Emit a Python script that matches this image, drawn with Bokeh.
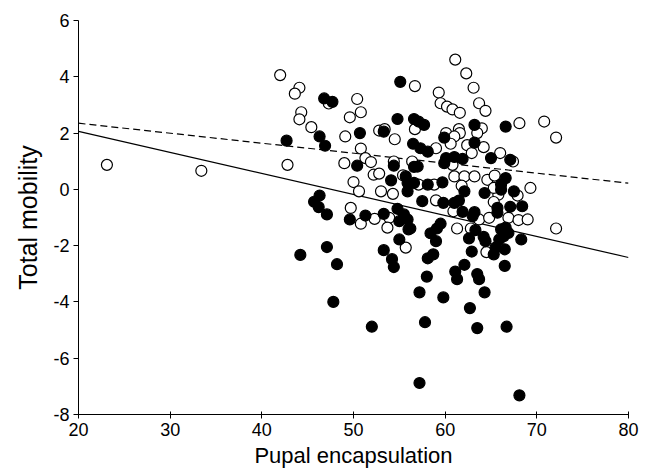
from bokeh.plotting import figure
from bokeh.models import Range1d, FixedTicker
from bokeh.embed import file_html
from bokeh.resources import INLINE

open_x = [23.1, 33.4, 42.0, 44.1, 43.6, 47.3, 50.4, 44.3, 44.1, 50.8, 49.6, 45.4, 49.1, 52.8, 53.4, 54.5,
          50.8, 42.8, 49.0, 51.3, 51.9, 54.4, 61.1, 62.3, 56.7, 63.1, 59.3, 63.7, 64.4, 59.5, 60.2, 60.8,
          61.6, 56.7, 64.0, 68.1, 70.8, 72.1, 60.1, 61.5, 61.6, 61.0, 60.6, 63.5, 62.4, 62.9, 64.2, 59.0,
          66.0, 67.4, 56.4, 60.8, 52.2, 52.8, 50.0, 50.6, 53.0, 54.3, 49.7, 50.8, 52.3, 53.9, 53.7, 55.7,
          57.1, 58.8, 61.0, 62.1, 63.2, 61.8, 64.6, 65.4, 65.8, 67.9, 69.3, 59.0, 60.9, 63.7, 65.3, 64.8,
          66.9, 68.0, 69.0, 72.1, 61.3, 62.8, 64.5, 55.4, 65.3]
open_y = [0.87, 0.66, 4.06, 3.61, 3.40, 3.05, 3.21, 2.74, 2.49, 2.74, 2.56, 2.21, 1.88, 2.09, 2.14, 1.78,
          1.45, 0.87, 0.93, 1.11, 0.97, 0.99, 4.61, 4.12, 3.67, 3.61, 3.44, 3.06, 2.79, 3.06, 2.94, 2.84,
          2.72, 2.14, 2.17, 2.35, 2.41, 1.84, 2.00, 2.14, 2.00, 1.88, 1.62, 2.00, 1.57, 1.29, 1.50, 1.46,
          1.29, 0.99, 0.99, 0.87, 0.52, 0.56, 0.26, -0.07, -0.07, -0.16, -0.66, -1.22, -1.05, -1.01, -1.36, -2.07,
          0.17, 0.17, 0.46, 0.46, 0.46, 0.13, 0.34, 0.49, -0.19, -0.22, 0.05, -0.39, -0.78, -1.07, -0.45, -1.01,
          -1.01, -1.09, -1.07, -1.39, -1.39, -1.39, -2.23, 0.50, 0.05]

filled_x = [46.8, 47.7, 46.3, 46.9, 42.7, 50.7, 53.3, 55.1, 54.8, 50.4, 54.4, 56.6, 57.1, 57.7, 63.2, 66.6,
            59.9, 63.2, 56.5, 57.3, 58.1, 65.0, 67.1, 60.1, 61.0, 61.9, 59.9, 57.0, 56.6, 54.1, 46.3, 45.7,
            46.2, 47.1, 49.6, 51.3, 53.3, 54.8, 55.5, 55.9, 55.9, 55.0, 56.0, 55.0, 53.3, 47.1, 44.2, 48.2,
            54.2, 54.4, 55.7, 56.6, 58.1, 59.7, 62.1, 66.6, 66.1, 66.1, 64.3, 67.5, 57.5, 59.8, 61.0, 61.5,
            61.9, 63.2, 63.0, 65.7, 65.7, 67.1, 68.4, 55.9, 56.2, 59.5, 59.1, 58.4, 63.3, 62.6, 59.0, 64.2,
            64.4, 66.1, 66.6, 66.4, 65.9, 68.3, 65.5, 66.5, 65.3, 62.9, 58.7, 58.1, 62.1, 66.5, 61.1, 61.3,
            63.5, 63.7, 58.0, 66.9, 47.8, 57.2, 59.8, 64.3, 62.7, 52.0, 57.8, 63.5, 66.7, 57.2, 68.1]
filled_y = [3.23, 3.11, 1.88, 1.55, 1.73, 2.00, 2.05, 3.82, 2.50, 0.84, 0.84, 2.50, 2.41, 2.29, 2.29, 2.23,
            1.84, 1.66, 1.62, 1.46, 1.34, 1.11, 1.05, 1.11, 1.15, 1.08, 0.93, 0.81, 0.80, 0.32, -0.22, -0.44,
            -0.63, -0.89, -1.07, -0.93, -0.87, -0.69, -0.89, 0.23, -0.07, -1.13, -1.42, -1.78, -2.16, -2.05, -2.33, -2.66,
            -2.48, -2.76, 0.46, 0.23, 0.17, 0.25, -0.07, 0.40, 0.17, -0.01, -0.13, -0.07, -0.42, -0.48, -0.48, -0.40,
            -0.80, -0.81, -0.95, -0.66, -0.83, -0.62, -0.60, -1.07, -1.39, -1.22, -1.39, -1.56, -1.45, -1.74, -1.84, -1.69,
            -1.84, -1.42, -1.36, -1.66, -1.78, -1.78, -2.07, -2.13, -2.31, -2.21, -2.31, -2.45, -2.68, -2.72, -2.92, -3.19,
            -3.01, -3.19, -3.10, -1.55, -4.00, -3.66, -3.84, -3.66, -4.22, -4.88, -4.72, -4.93, -4.88, -6.88, -7.32]

line_x = [20, 80]
dashed_y = [2.35, 0.22]
solid_y = [2.06, -2.42]

x_ticks = [20, 30, 40, 50, 60, 70, 80]
y_ticks = [-8, -6, -4, -2, 0, 2, 4, 6]

FONT = "Liberation Sans"

p = figure(width=640, height=470, output_backend="svg", toolbar_location=None,
           x_range=Range1d(20, 80), y_range=Range1d(-8, 6),
           min_border_left=78, min_border_right=12, min_border_top=20, min_border_bottom=54)
p.outline_line_color = None
p.xgrid.visible = False
p.ygrid.visible = False
p.background_fill_color = "white"
p.border_fill_color = "white"

p.line(line_x, dashed_y, line_color="black", line_width=1.2, line_dash="7 4")
p.line(line_x, solid_y, line_color="black", line_width=1.2)

p.scatter(open_x, open_y, size=11, marker="circle", fill_color="white",
          line_color="black", line_width=1.2)
p.scatter(filled_x, filled_y, size=11, marker="circle", fill_color="black",
          line_color="black", line_width=1.2)

p.xaxis.ticker = FixedTicker(ticks=x_ticks)
p.yaxis.ticker = FixedTicker(ticks=y_ticks)
p.xaxis.major_label_overrides = {t: str(t) for t in x_ticks}
p.yaxis.major_label_overrides = {t: str(t) for t in y_ticks}
p.xaxis.axis_label = "Pupal encapsulation"
p.yaxis.axis_label = "Total mobility"

for ax in (p.xaxis, p.yaxis):
    ax.axis_line_color = "black"
    ax.axis_line_width = 1
    ax.major_tick_line_color = "black"
    ax.minor_tick_line_color = None
    ax.major_label_text_font = FONT
    ax.major_label_text_font_size = "18px"
    ax.major_label_text_color = "black"
    ax.axis_label_text_font = FONT
    ax.axis_label_text_font_style = "normal"
    ax.axis_label_text_color = "black"

p.xaxis.axis_label_text_font_size = "22px"
p.yaxis.axis_label_text_font_size = "25px"
p.xaxis.major_tick_in = 3
p.xaxis.major_tick_out = 4
p.yaxis.major_tick_in = 0
p.yaxis.major_tick_out = 5
p.xaxis.major_label_standoff = 4
p.yaxis.major_label_standoff = 4
p.xaxis.axis_label_standoff = 4
p.yaxis.axis_label_standoff = 8

open("out.html", "w").write(file_html(p, INLINE))
